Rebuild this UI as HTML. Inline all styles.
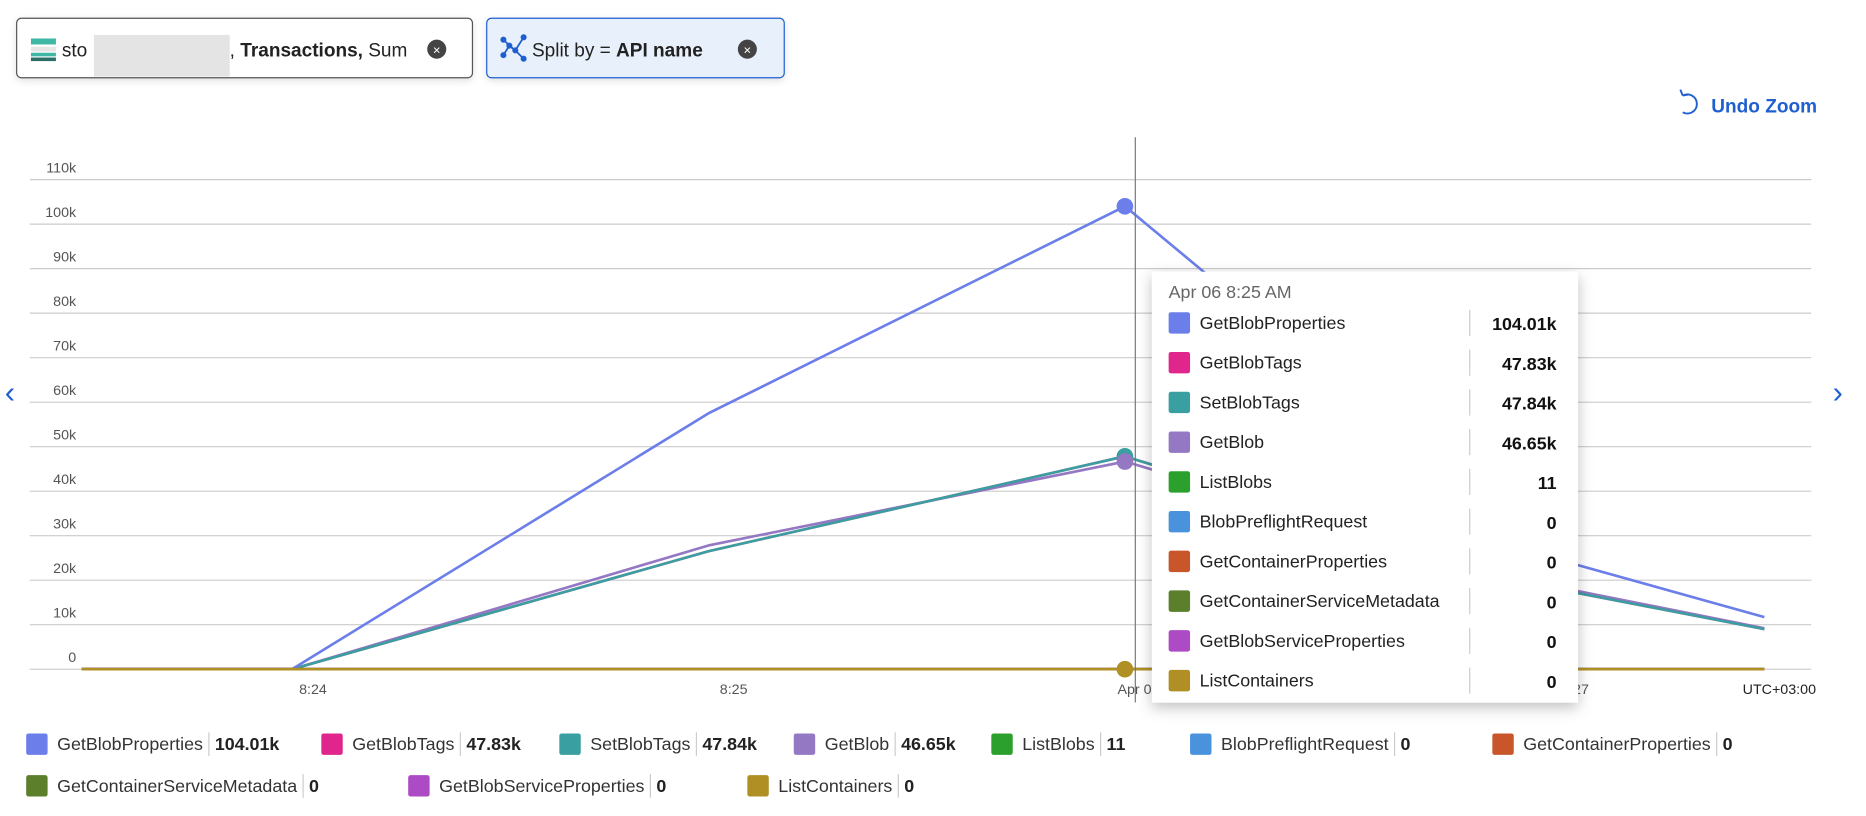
<!DOCTYPE html>
<html><head><meta charset="utf-8">
<style>
html,body{margin:0;padding:0;background:#fff;width:1866px;height:816px;overflow:hidden}
svg{display:block;font-family:"Liberation Sans",sans-serif}
</style></head>
<body>
<svg id="c" width="1866" height="816" viewBox="0 0 1568 685" xmlns="http://www.w3.org/2000/svg">
<defs>
<filter id="sh" x="-10%" y="-10%" width="130%" height="130%"><feDropShadow dx="0" dy="4" stdDeviation="6" flood-color="#000" flood-opacity="0.25"/></filter>
<filter id="sh2" x="-10%" y="-20%" width="130%" height="160%"><feDropShadow dx="0" dy="2" stdDeviation="3" flood-color="#000" flood-opacity="0.12"/></filter>
</defs>
<g>
<rect x="14" y="15" width="383" height="50" rx="4" fill="#fff" stroke="#555" stroke-width="1" filter="url(#sh2)"/>
<rect x="26" y="32" width="21" height="5" fill="#3fb7a5"/><rect x="26" y="39" width="21" height="4" fill="#e6e6e6"/><rect x="26" y="44" width="21" height="3" fill="#3fb7a5"/><rect x="26" y="48" width="21" height="3" fill="#2b6e66"/>
<text x="52" y="47" font-size="16" fill="#222">sto</text>
<rect x="79" y="29" width="114" height="35" fill="#e4e4e4"/>
<text x="193" y="47" font-size="16" fill="#222">, <tspan font-weight="bold">Transactions,</tspan> Sum</text>
<circle cx="367" cy="41" r="8" fill="#444"/><text x="367" y="45.5" font-size="11" fill="#fff" text-anchor="middle">×</text>
</g>
<g>
<rect x="409" y="15" width="250" height="50" rx="4" fill="#e8f1fb" stroke="#1f5fd0" stroke-width="1" filter="url(#sh2)"/>
<g stroke="#1f5fd0" stroke-width="1.5" fill="#1f5fd0">
<polyline points="423,46 428,38 433,42 440,31" fill="none"/><polyline points="423,33 428,38 433,42 440,49" fill="none"/>
<circle cx="423" cy="46" r="1.8"/><circle cx="428" cy="38" r="1.8"/><circle cx="433" cy="42" r="1.8"/><circle cx="440" cy="31" r="1.8"/><circle cx="423" cy="33" r="1.8"/><circle cx="440" cy="49" r="1.8"/></g>
<text x="447" y="47" font-size="16" fill="#222">Split by = <tspan font-weight="bold">API name</tspan></text>
<circle cx="628" cy="41" r="8" fill="#444"/><text x="628" y="45.5" font-size="11" fill="#fff" text-anchor="middle">×</text>
</g>
<g>
<path d="M1414,80 a8,8 0 1 1 0,14 M1414,80 l-2,-5 M1414,80 l5,-1" fill="none" stroke="#1f5fd0" stroke-width="1.6"/>
<text x="1438" y="94" font-size="16" font-weight="bold" fill="#1f5fd0">Undo Zoom</text>
</g>
<text x="4" y="338" font-size="26" fill="#1f5fd0">‹</text>
<text x="1540" y="338" font-size="26" fill="#1f5fd0">›</text>
<g id="grid"></g>
<g id="xaxis"></g>
<g id="lines"></g>
<line x1="954" y1="115" x2="954" y2="590" stroke="#777" stroke-width="1"/>
<g id="dots"></g>
<g id="tip"></g>
<g id="legend"></g>
</svg>
<script>
const NS="http://www.w3.org/2000/svg";
const series=["GetBlobProperties","GetBlobTags","SetBlobTags","GetBlob","ListBlobs","BlobPreflightRequest","GetContainerProperties","GetContainerServiceMetadata","GetBlobServiceProperties","ListContainers"];
const colors=["#6b7ee9","#e0268d","#3a9fa0","#9478c4","#2ca02c","#4a93dc","#c8562a","#5b7f2b","#ad4bc4","#b08f24"];
const times=[23.45,23.95,24.94,25.93,26.93,27.45];
const vGetBlobProperties=[0,0,57500,104010,25400,11700];
const vGetBlobTags=[0,0,26500,47830,18500,9000];
const vSetBlobTags=[0,0,26500,47840,18500,9000];
const vGetBlob=[0,0,27800,46650,19000,9200];
const vListBlobs=[0,0,5,11,4,2];
const vZero=[0,0,0,0,0,0];
const tipValues=["104.01k","47.83k","47.84k","46.65k","11","0","0","0","0","0"];
const legendValues=["104.01k","47.83k","47.84k","46.65k","11","0","0","0","0","0"];
const yTicks=[0,10000,20000,30000,40000,50000,60000,70000,80000,90000,100000,110000];
const yTickLabels=["0","10k","20k","30k","40k","50k","60k","70k","80k","90k","100k","110k"];
const xTicks=[24,25,26,27];
const xTickLabels=["8:24","8:25","Apr 06 8:26","8:27"];
const hoverIndex=3;
const allVals=[vGetBlobProperties,vGetBlobTags,vSetBlobTags,vGetBlob,vListBlobs,vZero,vZero,vZero,vZero,vZero];

const X=t=>263+(t-24)*353.5;
const Y=v=>562-v/10000*37.4;
function el(tag,a,p){const e=document.createElementNS(NS,tag);for(const k in a)e.setAttribute(k,a[k]);p.appendChild(e);return e;}

const grid=document.getElementById('grid');
yTicks.forEach((v,i)=>{
  const l=el('line',{x1:25,x2:1522,y1:Y(v),y2:Y(v),stroke:'#ccc','stroke-width':1},grid);
  
  
  const t=el('text',{x:64,y:Y(v)-6,'font-size':12,fill:'#555','text-anchor':'end'},grid);
  t.textContent=yTickLabels[i];
  
  
});
const xa=document.getElementById('xaxis');
xTicks.forEach((v,i)=>{
  const t=el('text',{x:X(v),y:583,'font-size':12,fill:'#555','text-anchor':'middle'},xa);
  t.textContent=xTickLabels[i];
  
  
});
const tz=el('text',{x:1526,y:583,'font-size':12,fill:'#222','text-anchor':'end'},xa);
tz.textContent="UTC+03:00";



const lines=document.getElementById('lines'),dots=document.getElementById('dots');
const order=[3,1,2,0,4,5,6,7,8,9];
order.forEach(i=>{
  const pts=times.map((t,j)=>X(t).toFixed(1)+','+Y(allVals[i][j]).toFixed(1)).join(' ');
  const p=el('polyline',{points:pts,fill:'none',stroke:colors[i],'stroke-width':2.2,'stroke-linejoin':'round'},lines);
  
  
});
[0,2,3,9].forEach(i=>{
  const c=el('circle',{cx:X(times[hoverIndex]),cy:Y(allVals[i][hoverIndex]),r:7,fill:colors[i]},dots);
  
  
});

const tip=document.getElementById('tip');
el('rect',{x:968,y:228,width:358,height:362,fill:'#fff',filter:'url(#sh)'},tip);
const th=el('text',{x:982,y:250,'font-size':15,fill:'#666'},tip);th.textContent="Apr 06 8:25 AM";
series.forEach((s,i)=>{
  const y=271+i*33.4;
  const r=el('rect',{x:982,y:y-9,width:18,height:18,rx:2,fill:colors[i]},tip);
  
  
  const t=el('text',{x:1008,y:y+5,'font-size':15,fill:'#222'},tip);t.textContent=s;
  
  
  el('line',{x1:1235,x2:1235,y1:y-11,y2:y+11,stroke:'#ccc'},tip);
  const v=el('text',{x:1308,y:y+6,'font-size':15,'font-weight':'bold',fill:'#111','text-anchor':'end'},tip);v.textContent=tipValues[i];
  
  
});

const lg=document.getElementById('legend');
const lpos=[[22,625],[270,625],[470,625],[667,625],[833,625],[1000,625],[1254,625],[22,660],[343,660],[628,660]];
series.forEach((s,i)=>{
  const [x,y]=lpos[i];
  const g=el('g',{},lg);
  
  
  el('rect',{x:x,y:y-9,width:18,height:18,rx:2,fill:colors[i]},g);
  const t=el('text',{x:x+26,y:y+5,'font-size':15,fill:'#333'},g);t.textContent=s;
  const w=t.getComputedTextLength();
  el('line',{x1:x+26+w+5,x2:x+26+w+5,y1:y-10,y2:y+10,stroke:'#ccc'},g);
  const v=el('text',{x:x+26+w+10,y:y+5,'font-size':15,'font-weight':'bold',fill:'#222'},g);v.textContent=legendValues[i];
});
</script>
</body></html>
